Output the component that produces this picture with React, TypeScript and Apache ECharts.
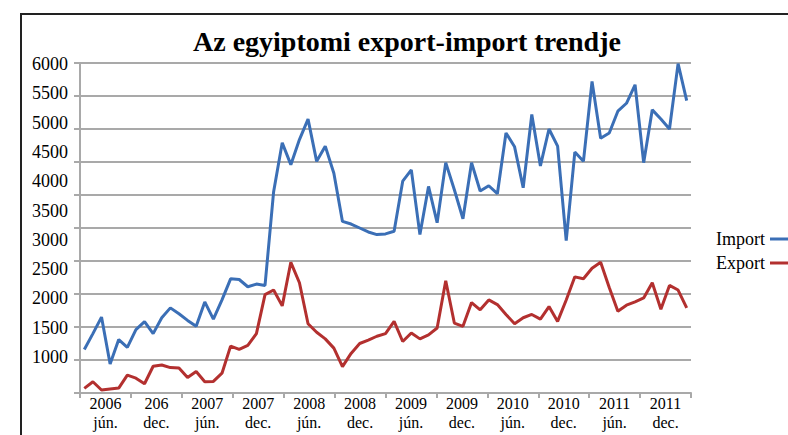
import React, { useEffect, useRef } from "react";
import * as echarts from "echarts";

// Monthly categories (hidden axis that positions the data points)
const monthCategories: string[] = [];
for (let y = 2006; y <= 2011; y++) {
  for (let m = 1; m <= 12; m++) {
    if (monthCategories.length < 71) monthCategories.push(`${y}-${String(m).padStart(2, "0")}`);
  }
}

// Visible half-year tick labels (as printed in the reference)
const halfYearLabels = [
  "2006\njún.", "206\ndec.", "2007\njún.", "2007\ndec.", "2008\njún.", "2008\ndec.",
  "2009\njún.", "2009\ndec.", "2010\njún.", "2010\ndec.", "2011\njún.", "2011\ndec.",
];

const importValues = [
  1660, 1900, 2150, 1440, 1810, 1690, 1960, 2080, 1900, 2140, 2290,
  2200, 2100, 2010, 2380, 2120, 2410, 2730, 2720, 2610, 2650, 2630,
  4050, 4790, 4460, 4840, 5150, 4510, 4740, 4330, 3600, 3560, 3500,
  3440, 3400, 3410, 3450, 4210, 4380, 3400, 4130, 3580, 4490, 4080,
  3640, 4490, 4060, 4140, 4020, 4940, 4730, 4110, 5220, 4440, 5000,
  4740, 3310, 4650, 4510, 5720, 4860, 4940, 5270, 5390, 5670, 4490,
  5290, 5150, 5000, 5990, 5430,
];

const exportValues = [
  1070, 1170, 1045, 1060, 1075, 1270, 1225, 1140, 1405, 1425, 1385,
  1380, 1235, 1325, 1170, 1175, 1300, 1710, 1660, 1720, 1900, 2490,
  2560, 2320, 2980, 2670, 2050, 1920, 1820, 1680, 1400, 1600, 1750,
  1800, 1860, 1900, 2085, 1780, 1910, 1820, 1880, 1985, 2700, 2060,
  2010, 2370, 2260, 2410, 2340, 2190, 2050, 2140, 2190, 2120, 2310,
  2085, 2410, 2760, 2730, 2890, 2980, 2600, 2240, 2330, 2380, 2440,
  2670, 2270, 2630, 2560, 2290,
];

const yMin = 1000;
const yMax = 6000;
const yStep = 500;

const FONT = "'Liberation Serif', 'Times New Roman', serif";
const GRID_GRAY = "#a9a9a9";
const IMPORT_COLOR = "#3b6fb6";
const EXPORT_COLOR = "#b3302f";

export default function App() {
  const ref = useRef<HTMLDivElement>(null);

  useEffect(() => {
    if (!ref.current) return;
    const chart = echarts.init(ref.current, undefined, { renderer: "svg" });
    chart.setOption({
      animation: false,
      backgroundColor: "#ffffff",
      title: {
        text: "Az egyiptomi export-import trendje",
        left: 188,
        top: 22,
        textStyle: { fontFamily: FONT, fontSize: 28, fontWeight: "bold", color: "#000" },
      },
      legend: {
        data: ["Import", "Export"],
        orient: "vertical",
        right: 0,
        top: 230,
        align: "right",
        padding: 0,
        icon: "rect",
        itemWidth: 18,
        itemHeight: 3,
        itemGap: 6,
        textStyle: { fontFamily: FONT, fontSize: 18, color: "#000" },
      },
      graphic: [
        {
          type: "rect",
          shape: { x: 21, y: 14, width: 820, height: 460 },
          style: { fill: "none", stroke: "#222", lineWidth: 2 },
          silent: true,
          z: -1,
        },
      ],
      grid: [
        { left: 80, right: 97, top: 63, bottom: 42 },
        { left: 80, right: 97, top: 64, bottom: 78 },
      ],
      xAxis: [
        {
          type: "category",
          gridIndex: 0,
          data: monthCategories,
          boundaryGap: true,
          show: false,
        },
        {
          type: "category",
          gridIndex: 0,
          position: "bottom",
          data: halfYearLabels,
          boundaryGap: true,
          axisLine: { show: true, lineStyle: { color: GRID_GRAY, width: 2 } },
          axisTick: { show: true, length: 5, interval: 0, lineStyle: { color: GRID_GRAY, width: 2 } },
          axisLabel: {
            interval: 0,
            margin: 1,
            fontFamily: FONT,
            fontSize: 16,
            lineHeight: 19,
            color: "#000",
          },
        },
        { type: "value", gridIndex: 1, show: false },
      ],
      yAxis: [
        {
          type: "value",
          gridIndex: 0,
          min: yMin,
          max: yMax,
          interval: yStep,
          axisLine: { show: true, lineStyle: { color: GRID_GRAY, width: 2 } },
          axisTick: { show: true, length: 6, lineStyle: { color: GRID_GRAY, width: 2 } },
          axisLabel: { show: false },
          splitLine: { show: true, lineStyle: { color: GRID_GRAY, width: 2 } },
        },
        {
          type: "value",
          gridIndex: 1,
          min: yMin,
          max: yMax,
          interval: yStep,
          axisLine: { show: false },
          axisTick: { show: false },
          splitLine: { show: false },
          axisLabel: {
            margin: 12,
            fontFamily: FONT,
            fontSize: 18,
            color: "#000",
            formatter: (v: number) => String(v),
          },
        },
      ],
      series: [
        {
          name: "Import",
          type: "line",
          xAxisIndex: 0,
          yAxisIndex: 0,
          data: importValues,
          symbol: "none",
          color: IMPORT_COLOR,
          lineStyle: { width: 3, color: IMPORT_COLOR },
        },
        {
          name: "Export",
          type: "line",
          xAxisIndex: 0,
          yAxisIndex: 0,
          data: exportValues,
          symbol: "none",
          color: EXPORT_COLOR,
          lineStyle: { width: 3, color: EXPORT_COLOR },
        },
      ],
    });
    return () => chart.dispose();
  }, []);

  return (
    <div
      ref={ref}
      style={{ position: "absolute", left: 0, top: 0, width: 788, height: 435 }}
    />
  );
}
